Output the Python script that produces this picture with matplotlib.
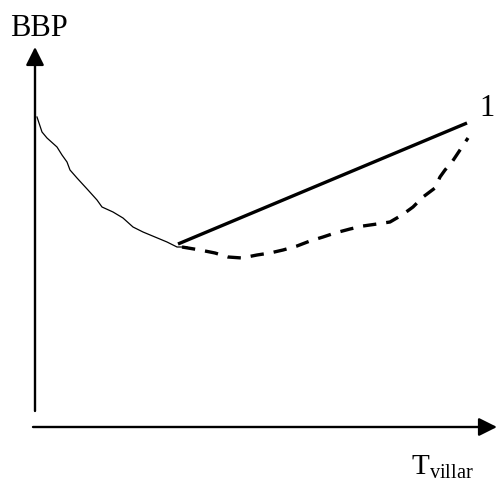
import matplotlib.pyplot as plt

# in pixel units (x to the right, y downwards)
thin_x = [37, 42, 47, 57, 62, 67, 70, 77, 88, 97, 102, 113, 123, 133, 143, 155, 167, 177, 187]
thin_y = [117, 132, 138, 147, 155, 162, 170, 178, 190, 200, 207, 212, 218, 227, 232, 237, 242, 247, 247]

solid_x = [178, 467]
solid_y = [244, 123]

dash_x = [182, 200, 215, 228, 242, 257, 270, 283, 297, 310, 323, 335, 350, 363, 377, 390,
          402, 413, 423, 435, 440, 445, 452, 460, 468]
dash_y = [247, 250, 253, 257, 258, 255, 253, 250, 246, 241, 237, 233, 229, 226, 224, 222,
          215, 207, 197, 188, 177, 170, 162, 150, 138]

W, H = 497, 483

fig = plt.figure(figsize=(W / 100, H / 100), dpi=100)
ax = fig.add_axes([0, 0, 1, 1])
ax.set_xlim(0, W)
ax.set_ylim(H, 0)
ax.set_axis_off()

arrow = dict(arrowstyle='-|>,head_length=1.0,head_width=0.5', mutation_scale=11,
             lw=1.7, color='black', shrinkA=0, shrinkB=0)
# y axis
ax.annotate('', xy=(35, 47), xytext=(35, 411), arrowprops=arrow)
# x axis
ax.annotate('', xy=(497, 427), xytext=(33, 427), arrowprops=arrow)

ax.plot(thin_x, thin_y, color='black', lw=0.9)
ax.plot(solid_x, solid_y, color='black', lw=2.4, solid_capstyle='butt')
ax.plot(dash_x, dash_y, color='black', lw=2.4, linestyle=(0, (4, 3)))

serif = ['Liberation Serif', 'DejaVu Serif']
ax.text(10, 36, 'BBP', fontsize=22, family=serif, ha='left', va='baseline')
ax.text(495, 116, '1', fontsize=22, family=serif, ha='right', va='baseline')
ax.text(411, 474, r'T$_{\mathregular{villar}}$', fontsize=21, family=serif,
        ha='left', va='baseline')

fig.savefig('out.png', dpi=100)
